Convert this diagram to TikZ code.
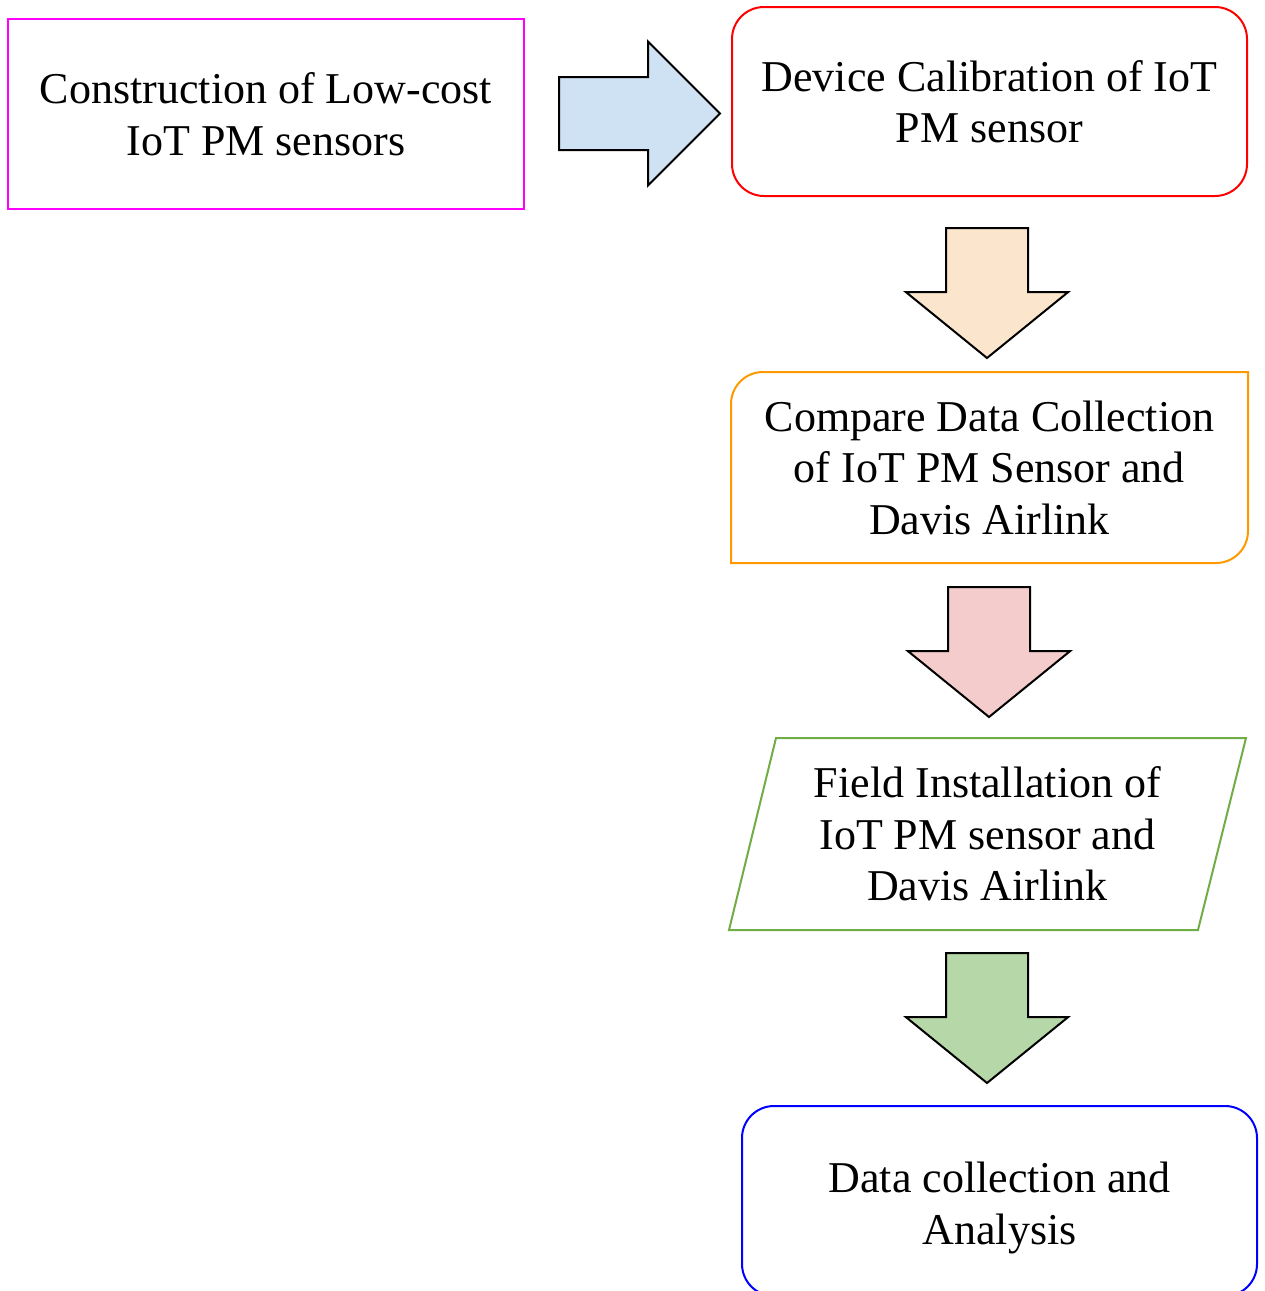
\documentclass[tikz,border=0pt]{standalone}
\usepackage{fontspec}
\setmainfont{Liberation Serif}
\usetikzlibrary{shapes.arrows}
\definecolor{boxmagenta}{RGB}{255,0,255}
\definecolor{boxred}{RGB}{255,0,0}
\definecolor{boxorange}{RGB}{255,153,0}
\definecolor{boxgreen}{RGB}{112,173,71}
\definecolor{boxblue}{RGB}{0,0,255}
\definecolor{fillblue}{RGB}{207,226,243}
\definecolor{fillpeach}{RGB}{252,229,205}
\definecolor{fillpink}{RGB}{244,204,204}
\definecolor{fillgreen}{RGB}{182,215,168}

\begin{document}
\begin{tikzpicture}[x=1pt,y=-1pt,
    box/.style={rectangle,line width=2pt,minimum width=515pt,minimum height=189pt,inner sep=0pt,align=center,font=\fontsize{44}{51.5}\selectfont},
    bigarrow/.style={single arrow,draw,line width=2pt,inner xsep=0pt,single arrow head indent=0pt,anchor=tail},
    downarrow/.style={bigarrow,rotate=-90,minimum height=130pt,inner ysep=40pt,single arrow head extend=40pt,single arrow tip angle=101.8}]
    \useasboundingbox (0,0) rectangle (1265,1291);

    \node[box,draw=boxmagenta,minimum width=516pt,minimum height=190pt] (construct) at (266,114) {Construction of Low-cost\\IoT PM sensors};
    \node[box,draw=boxred,rounded corners=32pt] (calib) at (989.5,101.5) {Device Calibration of IoT\\PM sensor};
    \node[box] (compare) at (989.5,467.5) {Compare Data Collection\\of IoT PM Sensor and\\Davis Airlink};
    \node[box,minimum height=190pt] (field) at (987.5,834) {Field Installation of\\IoT PM sensor and\\Davis Airlink};
    \node[box,draw=boxblue,rounded corners=32pt,minimum height=190pt] (analysis) at (999.5,1201) {\rule{0pt}{44pt}Data collection and\\Analysis};

    % outlines with odd corners
    \draw[line width=2pt,boxorange] (compare.south west) -- ([yshift=-32pt]compare.north west)
        arc[start angle=180,end angle=90,radius=32pt] -- (compare.north east)
        -- ([yshift=32pt]compare.south east) arc[start angle=0,end angle=-90,radius=32pt] -- cycle;
    \draw[line width=2pt,boxgreen] ([xshift=47pt]field.north west) -- (field.north east)
        -- ([xshift=-48pt]field.south east) -- (field.south west) -- cycle;

    % block arrows
    \node[bigarrow,fill=fillblue,minimum height=161pt,inner ysep=35.5pt,single arrow head extend=35.5pt] (step1) at (558,113.5) {};
    \node[downarrow,fill=fillpeach] (step2) at (987,227) {};
    \node[downarrow,fill=fillpink] (step3) at (989,586) {};
    \node[downarrow,fill=fillgreen] (step4) at (987,952) {};
\end{tikzpicture}
\end{document}
